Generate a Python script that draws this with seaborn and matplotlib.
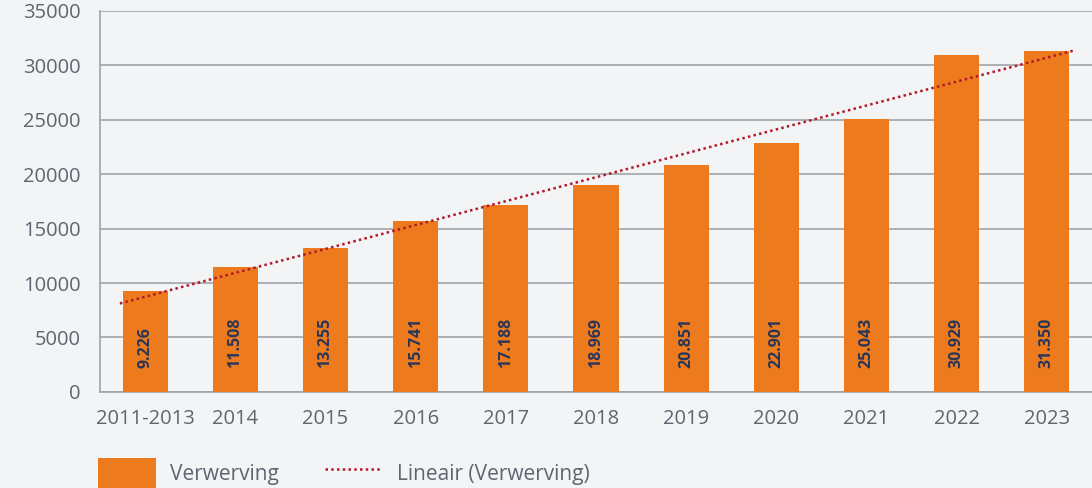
import numpy as np
import pandas as pd
import seaborn as sns
import matplotlib.pyplot as plt
from matplotlib.patches import Patch
from matplotlib.lines import Line2D

# data
years = ['2011-2013', '2014', '2015', '2016', '2017', '2018',
         '2019', '2020', '2021', '2022', '2023']
verwerving = [9226, 11508, 13255, 15741, 17188, 18969,
              20851, 22901, 25043, 30929, 31350]
value_labels = ['9.226', '11.508', '13.255', '15.741', '17.188', '18.969',
                '20.851', '22.901', '25.043', '30.929', '31.350']

bg = '#f3f4f6'
orange = '#ed7b1e'
red = '#b3182a'
grid_c = '#9fa3a8'
text_c = '#5d6670'
label_c = '#2a3658'

sns.set_theme(style='white')
plt.rcParams['font.family'] = ['Open Sans', 'DejaVu Sans']

df = pd.DataFrame({'jaar': years, 'Verwerving': verwerving})

fig = plt.figure(figsize=(10.92, 4.88), dpi=100, facecolor=bg)
ax = fig.add_axes([0.0916, 0.197, 0.9084, 0.7805])
ax.set_facecolor(bg)

sns.barplot(data=df, x='jaar', y='Verwerving', color=orange, saturation=1,
            width=0.5, linewidth=0, ax=ax, zorder=3)

# linear trendline (Excel style)
idx = np.arange(len(verwerving))
slope, icpt = np.polyfit(idx, verwerving, 1)
tx = np.array([-0.28, len(verwerving) - 0.7])
ax.plot(tx, icpt + slope * tx, color=red, lw=1.8, linestyle=(0, (1, 1.3)), zorder=4)

for i, lab in enumerate(value_labels):
    ax.text(i, 2200, lab, rotation=90, ha='center', va='bottom',
            fontsize=11.5, fontweight='bold', color=label_c, zorder=5)

ax.set_ylim(0, 35000)
ax.set_xlim(-0.5, len(years) - 0.5)
ax.set_yticks(np.arange(0, 35001, 5000))
ax.set_yticklabels([str(v) for v in range(0, 35001, 5000)])
ax.yaxis.grid(True, color=grid_c, lw=1.2, zorder=0)
ax.set_axisbelow(True)
ax.set_xlabel('')
ax.set_ylabel('')
ax.tick_params(axis='both', length=0, labelsize=14.5, labelcolor=text_c)
ax.tick_params(axis='x', pad=12)
ax.tick_params(axis='y', pad=14)
for s in ['top', 'right']:
    ax.spines[s].set_visible(False)
for s in ['left', 'bottom']:
    ax.spines[s].set_color(grid_c)
    ax.spines[s].set_linewidth(1.2)

handles = [Patch(facecolor=orange, edgecolor='none'),
           Line2D([0], [0], color=red, lw=1.8, linestyle=(0, (1, 1.3)))]
leg = fig.legend(handles, ['Verwerving', 'Lineair (Verwerving)'], ncol=2,
                 loc='upper left', bbox_to_anchor=(0.09, 0.061),
                 frameon=False, fontsize=15, labelcolor=text_c,
                 handlelength=2.75, handleheight=1.9, handletextpad=0.7,
                 columnspacing=2.2, borderaxespad=0, borderpad=0)

fig.savefig('out.png', dpi=100, facecolor=bg)
